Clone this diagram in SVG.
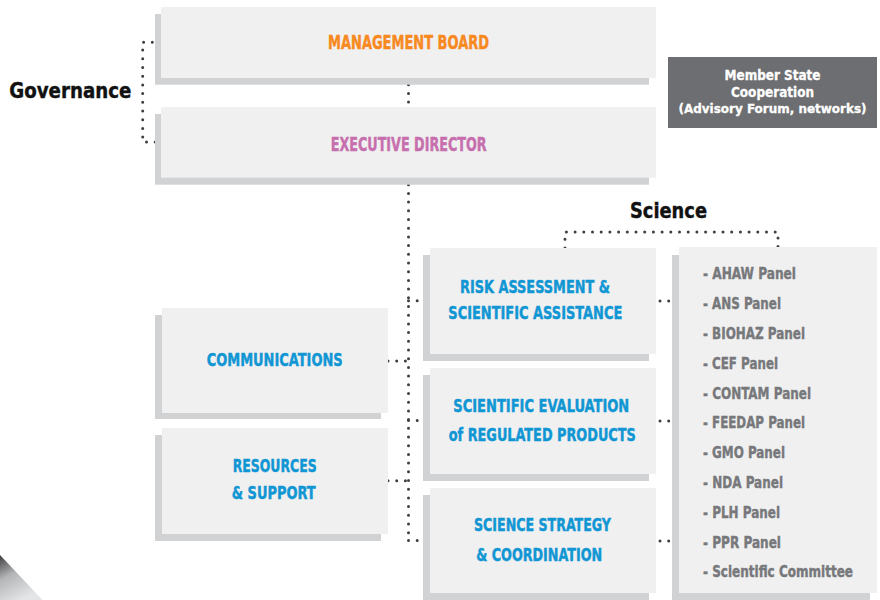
<svg xmlns="http://www.w3.org/2000/svg" width="880" height="600" viewBox="0 0 880 600">
<defs>
<style>
.sh{fill:#d1d2d4}
.bx{fill:#f0f0f0}
.t{font-family:"Liberation Sans Narrow","DejaVu Sans Condensed","Liberation Sans",sans-serif;font-weight:bold}
.blue{fill:#1196d4;stroke:#1196d4;stroke-width:0.45;font-size:18.3px}
.pn{fill:#77787b;stroke:#77787b;stroke-width:0.4;font-size:16px}
.hd{fill:#111111;stroke:#111111;stroke-width:0.4;font-size:21.5px}
.wh{fill:#ffffff;stroke:#ffffff;stroke-width:0.3;font-size:14.5px}
.dot{fill:none;stroke:#3f3f41;stroke-width:3;stroke-linecap:round;stroke-dasharray:0 8.7}
</style>
<linearGradient id="corner" x1="0" y1="0" x2="0.5" y2="1">
<stop offset="0" stop-color="#3c3c3e"/>
<stop offset="0.45" stop-color="#b4b5b7"/>
<stop offset="1" stop-color="#e4e5e6"/>
</linearGradient>
</defs>
<rect width="880" height="600" fill="#ffffff"/>
<polygon points="0,555 42.5,600 0,600" fill="url(#corner)"/>
<g id="connectors">
<path class="dot" d="M161,42.3 H142.7 V142 H161"/>
<path class="dot" d="M408.5,84.7 V107"/>
<path class="dot" d="M408.5,184.7 V540.5"/>
<path class="dot" d="M408.5,300.7 H430"/>
<path class="dot" d="M408.5,420.5 H430"/>
<path class="dot" d="M408.5,540.5 H430"/>
<path class="dot" d="M388,361 H408.5"/>
<path class="dot" d="M388,480.7 H408.5"/>
<path class="dot" d="M660,301 H679"/>
<path class="dot" d="M660,421 H679"/>
<path class="dot" d="M660,541 H679"/>
<path class="dot" d="M565,248 V232 H778 V248"/>
</g>
<g id="governance-label"><text class="t hd" x="9.3" y="98.3" textLength="122" lengthAdjust="spacingAndGlyphs">Governance</text></g>
<g id="science-label"><text class="t hd" x="630" y="218.3" textLength="77" lengthAdjust="spacingAndGlyphs">Science</text></g>
<g id="management-board">
<rect class="sh" x="155" y="14" width="494" height="70.7"/>
<rect class="bx" x="161" y="7" width="495" height="71"/>
<text class="t" x="408.5" y="48.7" text-anchor="middle" fill="#f7891f" stroke="#f7891f" stroke-width="0.45" font-size="20" textLength="161" lengthAdjust="spacingAndGlyphs">MANAGEMENT BOARD</text>
</g>
<g id="executive-director">
<rect class="sh" x="155" y="114" width="494" height="70.7"/>
<rect class="bx" x="161" y="107" width="495" height="70.7"/>
<text class="t" x="408.7" y="150.5" text-anchor="middle" fill="#c76fae" stroke="#c76fae" stroke-width="0.45" font-size="19.5" textLength="156" lengthAdjust="spacingAndGlyphs">EXECUTIVE DIRECTOR</text>
</g>
<g id="member-state">
<rect x="668" y="57" width="209" height="71" fill="#6d6e71"/>
<text class="t wh" x="772.5" y="80" text-anchor="middle" textLength="96" lengthAdjust="spacingAndGlyphs">Member State</text>
<text class="t wh" x="772.5" y="96.8" text-anchor="middle" textLength="83" lengthAdjust="spacingAndGlyphs">Cooperation</text>
<text class="t wh" x="772.5" y="113.3" text-anchor="middle" font-size="13" style="font-size:13px" textLength="188" lengthAdjust="spacingAndGlyphs">(Advisory Forum, networks)</text>
</g>
<g id="communications">
<rect class="sh" x="155" y="315" width="226" height="104"/>
<rect class="bx" x="162" y="308" width="226" height="105"/>
<text class="t blue" x="274.7" y="366" text-anchor="middle" textLength="136" lengthAdjust="spacingAndGlyphs">COMMUNICATIONS</text>
</g>
<g id="resources-support">
<rect class="sh" x="155" y="435" width="226" height="106"/>
<rect class="bx" x="162" y="428" width="226" height="106"/>
<text class="t blue" x="274.7" y="472.3" text-anchor="middle" textLength="84" lengthAdjust="spacingAndGlyphs">RESOURCES</text>
<text class="t blue" x="273.7" y="499" text-anchor="middle" textLength="84" lengthAdjust="spacingAndGlyphs">&amp; SUPPORT</text>
</g>
<g id="risk-assessment">
<rect class="sh" x="423" y="255" width="226" height="106"/>
<rect class="bx" x="430" y="248" width="226" height="106"/>
<text class="t blue" x="535" y="293.3" text-anchor="middle" textLength="150" lengthAdjust="spacingAndGlyphs">RISK ASSESSMENT &amp;</text>
<text class="t blue" x="535.3" y="319.3" text-anchor="middle" textLength="174" lengthAdjust="spacingAndGlyphs">SCIENTIFIC ASSISTANCE</text>
</g>
<g id="scientific-evaluation">
<rect class="sh" x="423" y="375" width="226" height="106"/>
<rect class="bx" x="430" y="368" width="226" height="106"/>
<text class="t blue" x="541.3" y="411.7" text-anchor="middle" textLength="176" lengthAdjust="spacingAndGlyphs">SCIENTIFIC EVALUATION</text>
<text class="t blue" x="542.3" y="441" text-anchor="middle" textLength="187" lengthAdjust="spacingAndGlyphs">of REGULATED PRODUCTS</text>
</g>
<g id="science-strategy">
<rect class="sh" x="423" y="495" width="226" height="105"/>
<rect class="bx" x="430" y="488" width="226" height="105"/>
<text class="t blue" x="542.5" y="531" text-anchor="middle" textLength="137" lengthAdjust="spacingAndGlyphs">SCIENCE STRATEGY</text>
<text class="t blue" x="539.2" y="561" text-anchor="middle" textLength="126" lengthAdjust="spacingAndGlyphs">&amp; COORDINATION</text>
</g>
<g id="panels">
<rect class="sh" x="672" y="255" width="198" height="345"/>
<rect class="bx" x="679" y="247" width="198" height="346"/>
<text class="t pn" x="703" y="279.3" textLength="93" lengthAdjust="spacingAndGlyphs">- AHAW Panel</text>
<text class="t pn" x="703" y="309.1" textLength="78" lengthAdjust="spacingAndGlyphs">- ANS Panel</text>
<text class="t pn" x="703" y="338.9" textLength="102" lengthAdjust="spacingAndGlyphs">- BIOHAZ Panel</text>
<text class="t pn" x="703" y="368.7" textLength="75" lengthAdjust="spacingAndGlyphs">- CEF Panel</text>
<text class="t pn" x="703" y="398.5" textLength="108" lengthAdjust="spacingAndGlyphs">- CONTAM Panel</text>
<text class="t pn" x="703" y="428.3" textLength="102" lengthAdjust="spacingAndGlyphs">- FEEDAP Panel</text>
<text class="t pn" x="703" y="458.1" textLength="82" lengthAdjust="spacingAndGlyphs">- GMO Panel</text>
<text class="t pn" x="703" y="487.9" textLength="80" lengthAdjust="spacingAndGlyphs">- NDA Panel</text>
<text class="t pn" x="703" y="517.7" textLength="77" lengthAdjust="spacingAndGlyphs">- PLH Panel</text>
<text class="t pn" x="703" y="547.5" textLength="78" lengthAdjust="spacingAndGlyphs">- PPR Panel</text>
<text class="t pn" x="703" y="577.3" style="font-size:15px" textLength="150" lengthAdjust="spacingAndGlyphs">- Scientific Committee</text>
</g>
</svg>
